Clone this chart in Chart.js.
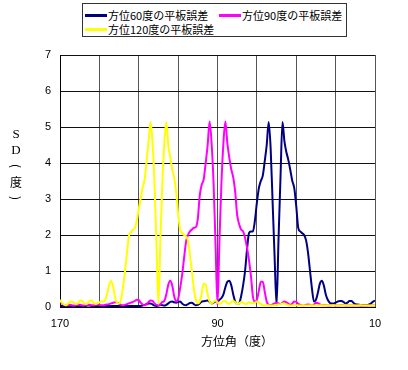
<!DOCTYPE html>
<html><head><meta charset="utf-8">
<script src="https://cdn.jsdelivr.net/npm/chart.js@4/dist/chart.umd.min.js"></script>
<style>
html,body{margin:0;padding:0;background:#fff;}
#wrap{position:relative;width:408px;height:370px;overflow:hidden;}
#c{position:absolute;left:0;top:0;}
#legend{position:absolute;left:82px;top:3px;width:263px;height:32px;border:1px solid #333;background:#fff;font-family:"Noto Sans CJK JP";font-size:11px;color:#000;}
.item{position:absolute;display:flex;align-items:center;height:14px;line-height:14px;white-space:nowrap;}
.sw{width:22px;height:3px;margin-right:1px;}
</style></head>
<body>
<div id="wrap">
<canvas id="c" width="408" height="370"></canvas>
<div id="legend"></div>
</div>
<script>
// ---- data ----
const seriesNames = ["方位60度の平板誤差", "方位90度の平板誤差", "方位120度の平板誤差"];
const xTitle = "方位角（度）";
const yTitleChars = ["S", "D", "(", "度", ")"];
const xTickLabels = [170, 90, 10];
const yTicks = [0, 1, 2, 3, 4, 5, 6, 7];

const angles = [
170,169,168,167,166,165,164,163,162,161,
160,159,158,157,156,155,154,153,152,151,
150,149,148,147,146,145,144,143,142,141,
140,139,138,137,136,135,134,133,132,131,
130,129,128,127,126,125,124,123,122,121,
120,119,118,117,116,115,114,113,112,111,
110,109,108,107,106,105,104,103,102,101,
100,99,98,97,96,95,94,93,92,91,
90,89,88,87,86,85,84,83,82,81,
80,79,78,77,76,75,74,73,72,71,
70,69,68,67,66,65,64,63,62,61,
60,59,58,57,56,55,54,53,52,51,
50,49,48,47,46,45,44,43,42,41,
40,39,38,37,36,35,34,33,32,31,
30,29,28,27,26,25,24,23,22,21,
20,19,18,17,16,15,14,13,12,11,
10];

const sd60 = [
0.04,0.03,0.03,0.03,0.03,0.03,0.03,0.03,0.03,0.03,
0.03,0.03,0.03,0.03,0.04,0.04,0.03,0.03,0.03,0.03,
0.03,0.03,0.03,0.03,0.03,0.03,0.03,0.03,0.03,0.03,
0.03,0.03,0.03,0.03,0.03,0.03,0.03,0.03,0.03,0.03,
0.03,0.03,0.04,0.06,0.08,0.1,0.1,0.07,0.04,0.03,
0.04,0.06,0.05,0.04,0.06,0.1,0.14,0.15,0.13,0.12,
0.14,0.15,0.1,0.06,0.05,0.08,0.11,0.12,0.08,0.05,
0.06,0.1,0.15,0.16,0.17,0.18,0.14,0.1,0.12,0.15,
0.15,0.2,0.25,0.35,0.55,0.7,0.73,0.6,0.35,0.15,
0.08,0.1,0.3,0.6,1.0,1.6,2.05,2.1,2.1,2.4,
2.9,3.3,3.5,3.65,4.05,4.5,5.14,4.4,2.9,1.4,
0.05,1.9,3.6,5.14,4.6,4.3,4.08,3.8,3.5,3.3,
2.8,2.2,2.1,2.05,2.0,1.85,1.5,1.0,0.5,0.15,
0.2,0.4,0.65,0.73,0.6,0.35,0.2,0.12,0.1,0.1,
0.12,0.15,0.17,0.17,0.14,0.1,0.12,0.17,0.17,0.12,
0.08,0.07,0.06,0.05,0.05,0.05,0.05,0.07,0.1,0.15,
0.18];

const sd90 = [
0.15,0.1,0.06,0.05,0.05,0.06,0.05,0.04,0.05,0.06,
0.06,0.05,0.04,0.05,0.06,0.06,0.05,0.05,0.06,0.07,
0.06,0.05,0.05,0.06,0.07,0.08,0.1,0.12,0.13,0.12,
0.09,0.06,0.05,0.06,0.08,0.1,0.12,0.14,0.17,0.2,
0.19,0.12,0.07,0.05,0.08,0.14,0.18,0.17,0.1,0.06,
0.05,0.08,0.14,0.17,0.35,0.62,0.73,0.6,0.3,0.15,
0.22,0.52,0.88,1.35,1.8,2.0,2.1,2.15,2.2,2.22,
2.45,3.1,3.4,3.55,4.0,4.5,5.15,4.55,3.45,1.75,
0.05,1.85,3.45,4.55,5.15,4.55,4.15,3.82,3.6,3.2,
2.55,2.3,2.15,2.1,1.92,1.65,1.3,0.85,0.28,0.15,
0.2,0.45,0.7,0.7,0.42,0.15,0.06,0.05,0.07,0.1,
0.12,0.1,0.08,0.12,0.15,0.13,0.09,0.06,0.1,0.15,
0.14,0.09,0.06,0.05,0.05,0.06,0.07,0.06,0.05,0.07,
0.12,0.11,0.07,0.05,0.05,0.05,0.04,0.04,0.05,0.05,
0.04,0.04,0.04,0.05,0.05,0.04,0.04,0.04,0.04,0.04,
0.04,0.04,0.04,0.04,0.04,0.04,0.04,0.04,0.04,0.04,
0.04];

const sd120 = [
0.2,0.12,0.07,0.05,0.09,0.14,0.15,0.12,0.08,0.1,
0.17,0.18,0.12,0.08,0.1,0.16,0.18,0.12,0.08,0.1,
0.13,0.15,0.15,0.2,0.38,0.62,0.72,0.56,0.27,0.11,
0.1,0.2,0.55,0.98,1.5,1.98,2.08,2.14,2.2,2.4,
2.72,3.02,3.32,3.55,4.05,4.6,5.14,4.55,3.45,1.75,
0.08,1.9,3.45,4.55,5.14,4.5,4.17,3.82,3.6,3.2,
2.6,2.15,2.05,2.0,1.96,1.85,1.45,1.0,0.5,0.2,
0.1,0.15,0.38,0.65,0.62,0.35,0.15,0.1,0.14,0.18,
0.13,0.08,0.11,0.17,0.16,0.11,0.09,0.14,0.17,0.13,
0.08,0.1,0.14,0.12,0.08,0.09,0.13,0.12,0.1,0.12,
0.15,0.13,0.08,0.05,0.04,0.05,0.05,0.04,0.04,0.05,
0.06,0.07,0.08,0.1,0.1,0.07,0.05,0.04,0.04,0.05,
0.05,0.04,0.04,0.05,0.05,0.04,0.04,0.05,0.05,0.04,
0.04,0.04,0.05,0.05,0.04,0.04,0.04,0.04,0.05,0.05,
0.04,0.04,0.04,0.04,0.05,0.05,0.04,0.04,0.04,0.04,
0.04,0.04,0.05,0.05,0.04,0.04,0.04,0.04,0.04,0.04,
0.04];

const colors = ["#000080", "#FF00FF", "#FFFF00"];

// ---- legend (HTML, real text) ----
const legendPos = [[2, 4], [136, 4], [2, 18]];
const leg = document.getElementById('legend');
seriesNames.forEach((n, i) => {
  const it = document.createElement('div');
  it.className = 'item';
  it.style.left = legendPos[i][0] + 'px';
  it.style.top = legendPos[i][1] + 'px';
  const sw = document.createElement('span');
  sw.className = 'sw';
  sw.style.background = colors[i];
  const tx = document.createElement('span');
  tx.textContent = n;
  it.appendChild(sw); it.appendChild(tx);
  leg.appendChild(it);
});

const toPts = arr => angles.map((a, i) => ({x: a, y: arr[i]}));

const titlePlugin = {
  id: 'titles',
  afterDraw(chart) {
    const ctx = chart.ctx;
    ctx.save();
    ctx.fillStyle = '#000';
    ctx.textAlign = 'center';
    ctx.textBaseline = 'middle';
    ctx.font = '12px "Noto Sans CJK JP"';
    ctx.fillText(xTitle, 237, 341);
    const ys = [135, 151, 166, 182, 198];
    const cx = 16;
    yTitleChars.forEach((c, i) => {
      if (c === '(' || c === ')') {
        ctx.save();
        ctx.translate(cx, ys[i]);
        ctx.rotate(Math.PI / 2);
        ctx.font = '12px "Noto Sans CJK JP"';
        ctx.fillText(c, 0, 0);
        ctx.restore();
      } else {
        ctx.font = (i < 2) ? '13px "Liberation Serif"' : '12px "Noto Sans CJK JP"';
        ctx.fillText(c, cx, ys[i]);
      }
    });
    ctx.restore();
  }
};

const tickFont = {family: '"Liberation Sans"', size: 11};

new Chart(document.getElementById('c'), {
  type: 'line',
  data: {
    datasets: [
      {label: seriesNames[0], data: toPts(sd60), borderColor: colors[0], borderWidth: 2, pointRadius: 0, cubicInterpolationMode: 'monotone', order: 2},
      {label: seriesNames[1], data: toPts(sd90), borderColor: colors[1], borderWidth: 2, pointRadius: 0, cubicInterpolationMode: 'monotone', order: 1},
      {label: seriesNames[2], data: toPts(sd120), borderColor: colors[2], borderWidth: 2, pointRadius: 0, cubicInterpolationMode: 'monotone', order: 0}
    ]
  },
  options: {
    responsive: false,
    animation: false,
    events: [],
    layout: {padding: {left: 0, top: 55, right: 33, bottom: 0}},
    plugins: {legend: {display: false}, tooltip: {enabled: false}},
    scales: {
      x: {
        type: 'linear', reverse: true, min: 10, max: 170,
        ticks: {stepSize: 20, autoSkip: false, maxRotation: 0, padding: 10, color: '#000', font: tickFont,
          callback: v => xTickLabels.includes(v) ? String(v) : ''},
        grid: {color: '#555', drawTicks: false},
        border: {color: '#000'},
        afterFit(s) { s.height = 63; }
      },
      y: {
        min: 0, max: 7,
        afterBuildTicks(s) { s.ticks = yTicks.map(v => ({value: v})); },
        ticks: {padding: 9, color: '#000', font: tickFont},
        grid: {color: '#111', drawTicks: false},
        border: {color: '#000'},
        afterFit(s) { s.width = 60; }
      }
    }
  },
  plugins: [titlePlugin]
});
</script>
</body></html>
